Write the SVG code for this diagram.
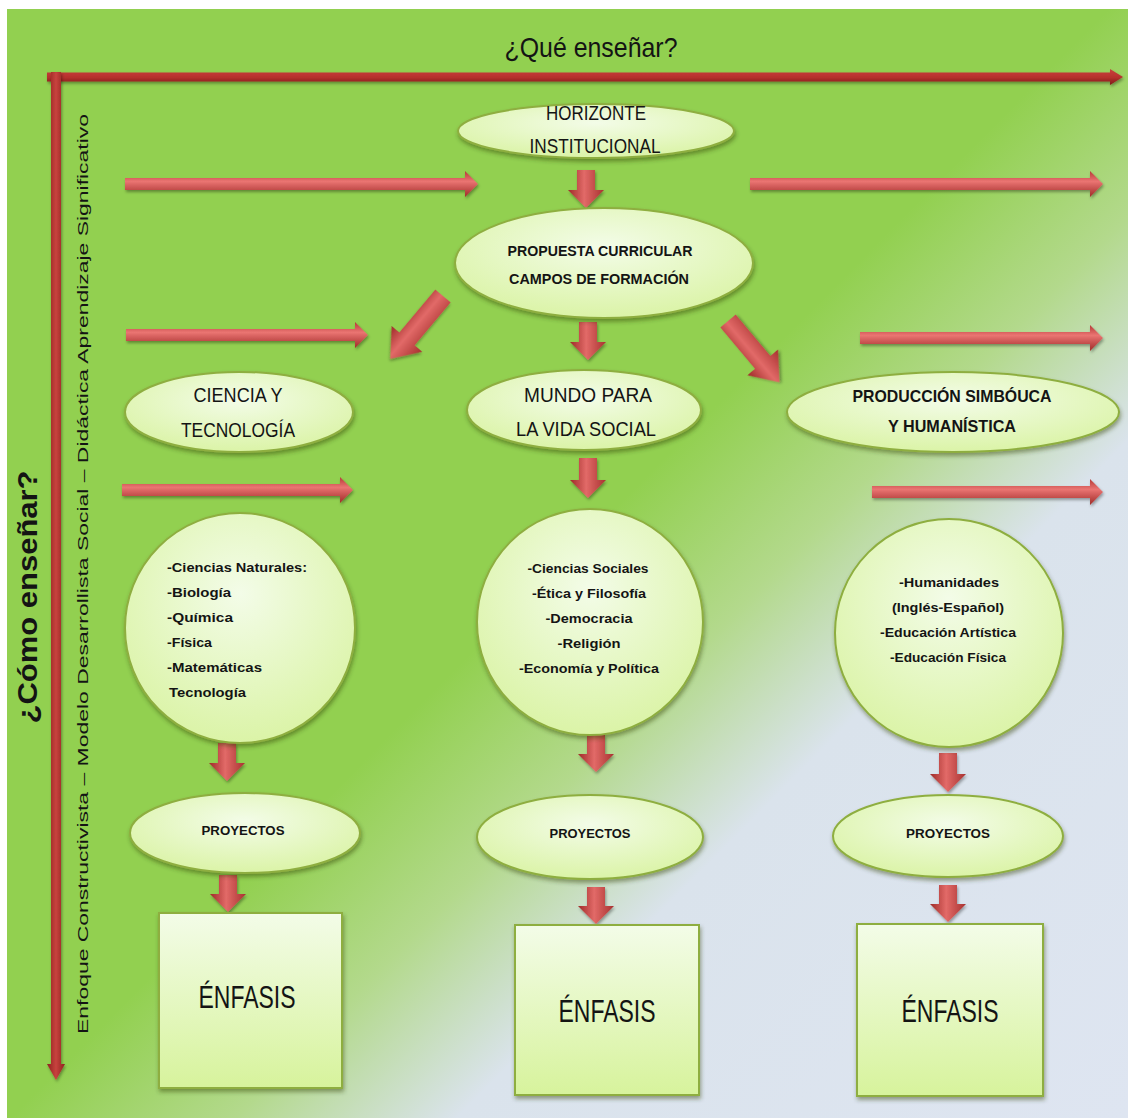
<svg xmlns="http://www.w3.org/2000/svg" width="1128" height="1118" viewBox="0 0 1128 1118">
<defs>
  <linearGradient id="bg" gradientUnits="userSpaceOnUse" x1="0" y1="0" x2="1128" y2="1118">
    <stop offset="0" stop-color="#92D050"/>
    <stop offset="0.5" stop-color="#92D050"/>
    <stop offset="0.6" stop-color="#B3D98C"/>
    <stop offset="0.7" stop-color="#DAE3EC"/>
    <stop offset="1" stop-color="#DEE5F1"/>
  </linearGradient>
  <linearGradient id="nodeFill" x1="0" y1="0" x2="0" y2="1">
    <stop offset="0" stop-color="#F3FCE8"/>
    <stop offset="1" stop-color="#D7F39C"/>
  </linearGradient>
  <radialGradient id="ellFill" cx="0.5" cy="0.35" r="0.7">
    <stop offset="0" stop-color="#F3FCE8"/>
    <stop offset="1" stop-color="#D9F3A2"/>
  </radialGradient>
  <linearGradient id="arrV" x1="0" y1="0" x2="1" y2="0">
    <stop offset="0" stop-color="#9E2B28"/>
    <stop offset="0.45" stop-color="#E26A68"/>
    <stop offset="1" stop-color="#A83230"/>
  </linearGradient>
  <linearGradient id="arrH" x1="0" y1="0" x2="0" y2="1">
    <stop offset="0" stop-color="#B53A36"/>
    <stop offset="0.4" stop-color="#EA7472"/>
    <stop offset="1" stop-color="#9F2B28"/>
  </linearGradient>
  <linearGradient id="axisH" x1="0" y1="0" x2="0" y2="1">
    <stop offset="0" stop-color="#C8413C"/>
    <stop offset="0.5" stop-color="#B8322E"/>
    <stop offset="1" stop-color="#7E1B19"/>
  </linearGradient>
  <linearGradient id="axisV" x1="0" y1="0" x2="1" y2="0">
    <stop offset="0" stop-color="#8E2220"/>
    <stop offset="0.5" stop-color="#C8433E"/>
    <stop offset="1" stop-color="#8E2220"/>
  </linearGradient>
  <filter id="sh" x="-10%" y="-10%" width="130%" height="140%">
    <feDropShadow dx="1" dy="3" stdDeviation="2" flood-color="#2a3a10" flood-opacity="0.45"/>
  </filter>
  <filter id="ash" x="-20%" y="-20%" width="150%" height="160%">
    <feDropShadow dx="1" dy="2" stdDeviation="1.5" flood-color="#000" flood-opacity="0.35"/>
  </filter>
</defs>
<style>
  .node { fill: url(#ellFill); stroke: #8EAE3F; stroke-width: 2; filter: url(#sh); }
  .box { fill: url(#nodeFill); stroke: #8EAE3F; stroke-width: 2; filter: url(#sh); }
  .av { fill: url(#arrV); filter: url(#ash); }
  .ah { fill: url(#arrH); filter: url(#ash); }
  text { font-family: "Liberation Sans Narrow", "Liberation Sans", Arial, sans-serif; fill: #141414; text-anchor: middle; }
  .t20 { font-size: 20px; }
  .t21 { font-size: 21px; }
  .t14b { font-size: 14px; font-weight: bold; }
  .t17b { font-size: 17px; font-weight: bold; }
  .t13b { font-size: 13px; font-weight: bold; }
  .t12b { font-size: 12px; font-weight: bold; }
  .t30 { font-size: 31px; }
  .left { text-anchor: start; }
</style>

<rect x="7" y="9" width="1121" height="1109" fill="url(#bg)"/>

<g id="titles">
  <text x="591" y="57" font-size="28" textLength="173" lengthAdjust="spacingAndGlyphs">¿Qué enseñar?</text>
  <text transform="translate(37,597) rotate(-90)" font-size="27" font-weight="bold" textLength="253" lengthAdjust="spacingAndGlyphs">¿Cómo enseñar?</text>
  <text transform="translate(88,574) rotate(-90)" font-size="15" textLength="920" lengthAdjust="spacingAndGlyphs">Enfoque Constructivista  –  Modelo Desarrollista Social – Didáctica Aprendizaje Significativo</text>
</g>

<g id="connectors">
  <!-- axes -->
  <path d="M47 72.5 H1110 V69 L1123 77 L1110 85 V81.5 H47 Z" fill="url(#axisH)" filter="url(#ash)"/>
  <path d="M51 72 H61 V1064 H65 L56 1080 L47 1064 H51 Z" fill="url(#axisV)" filter="url(#ash)"/>
  <!-- horizontal arrows -->
  <path class="ah" d="M125 178 H465 V171 L478 184 L465 197 V190 H125 Z"/>
  <path class="ah" d="M750 178 H1090 V171 L1103 184 L1090 197 V190 H750 Z"/>
  <path class="ah" d="M126 329 H355 V322 L368 335 L355 348 V341 H126 Z"/>
  <path class="ah" d="M860 332 H1090 V325 L1103 338 L1090 351 V344 H860 Z"/>
  <path class="ah" d="M122 484 H340 V477 L353 490 L340 503 V496 H122 Z"/>
  <path class="ah" d="M872 486 H1090 V479 L1103 492 L1090 505 V498 H872 Z"/>
  <!-- vertical arrows -->
  <path class="av" d="M577 170 H595 V190 H604 L586 208 L568 190 H577 Z"/>
  <path class="av" d="M579 322 H597 V342 H606 L588 360 L570 342 H579 Z"/>
  <path class="av" d="M579 458 H597 V480 H606 L588 498 L570 480 H579 Z"/>
  <path class="av" d="M218 743 H236 V763 H245 L227 781 L209 763 H218 Z"/>
  <path class="av" d="M587 735 H605 V754 H614 L596 772 L578 754 H587 Z"/>
  <path class="av" d="M939 753 H957 V774 H966 L948 792 L930 774 H939 Z"/>
  <path class="av" d="M219 875 H237 V894 H246 L228 912 L210 894 H219 Z"/>
  <path class="av" d="M587 887 H605 V906 H614 L596 924 L578 906 H587 Z"/>
  <path class="av" d="M939 885 H957 V904 H966 L948 922 L930 904 H939 Z"/>
  <!-- diagonal arrows -->
  <path class="av" transform="translate(443,296) rotate(40)" d="M-10 0 H10 V56 H20 L0 82 L-20 56 H-10 Z"/>
  <path class="av" transform="translate(728,321) rotate(-40)" d="M-10 0 H10 V54 H20 L0 80 L-20 54 H-10 Z"/>
</g>

<g id="horizonte">
  <ellipse class="node" cx="596" cy="131" rx="138" ry="27"/>
  <text class="t20" x="596" y="120" textLength="100" lengthAdjust="spacingAndGlyphs">HORIZONTE</text>
  <text class="t20" x="595" y="153" textLength="131" lengthAdjust="spacingAndGlyphs">INSTITUCIONAL</text>
</g>

<g id="propuesta">
  <ellipse class="node" cx="604" cy="263" rx="149" ry="55"/>
  <text class="t14b" x="600" y="256" textLength="185" lengthAdjust="spacingAndGlyphs">PROPUESTA  CURRICULAR</text>
  <text class="t14b" x="599" y="284" textLength="180" lengthAdjust="spacingAndGlyphs">CAMPOS DE FORMACIÓN</text>
</g>

<g id="ciencia">
  <ellipse class="node" cx="239" cy="412" rx="114" ry="40"/>
  <text class="t21" x="238" y="402" textLength="89" lengthAdjust="spacingAndGlyphs">CIENCIA Y</text>
  <text class="t21" x="238" y="437" textLength="114" lengthAdjust="spacingAndGlyphs">TECNOLOGÍA</text>
</g>

<g id="mundo">
  <ellipse class="node" cx="584" cy="410" rx="117" ry="40"/>
  <text class="t21" x="588" y="402" textLength="128" lengthAdjust="spacingAndGlyphs">MUNDO PARA</text>
  <text class="t21" x="586" y="436" textLength="140" lengthAdjust="spacingAndGlyphs">LA VIDA SOCIAL</text>
</g>

<g id="produccion">
  <ellipse class="node" cx="953" cy="412" rx="166" ry="40"/>
  <text class="t17b" x="952" y="402" textLength="199" lengthAdjust="spacingAndGlyphs">PRODUCCIÓN  SIMBÓUCA</text>
  <text class="t17b" x="952" y="432" textLength="128" lengthAdjust="spacingAndGlyphs">Y HUMANÍSTICA</text>
</g>

<g id="circulo-ciencia">
  <circle class="node" cx="240" cy="628" r="115"/>
  <text class="t13b left" x="167" y="572" textLength="140" lengthAdjust="spacingAndGlyphs">-Ciencias Naturales:</text>
  <text class="t13b left" x="167" y="597" textLength="64" lengthAdjust="spacingAndGlyphs">-Biología</text>
  <text class="t13b left" x="167" y="622" textLength="66" lengthAdjust="spacingAndGlyphs">-Química</text>
  <text class="t13b left" x="167" y="647" textLength="45" lengthAdjust="spacingAndGlyphs">-Física</text>
  <text class="t13b left" x="167" y="672" textLength="95" lengthAdjust="spacingAndGlyphs">-Matemáticas</text>
  <text class="t13b left" x="169" y="697" textLength="77" lengthAdjust="spacingAndGlyphs">Tecnología</text>
</g>

<g id="circulo-mundo">
  <circle class="node" cx="590" cy="622" r="113"/>
  <text class="t13b" x="588" y="573" textLength="121" lengthAdjust="spacingAndGlyphs">-Ciencias Sociales</text>
  <text class="t13b" x="589" y="598" textLength="114" lengthAdjust="spacingAndGlyphs">-Ética y Filosofía</text>
  <text class="t13b" x="589" y="623" textLength="87" lengthAdjust="spacingAndGlyphs">-Democracia</text>
  <text class="t13b" x="589" y="648" textLength="63" lengthAdjust="spacingAndGlyphs">-Religión</text>
  <text class="t13b" x="589" y="673" textLength="140" lengthAdjust="spacingAndGlyphs">-Economía y Política</text>
</g>

<g id="circulo-produccion">
  <circle class="node" cx="949" cy="633" r="114"/>
  <text class="t13b" x="949" y="587" textLength="100" lengthAdjust="spacingAndGlyphs">-Humanidades</text>
  <text class="t13b" x="948" y="612" textLength="112" lengthAdjust="spacingAndGlyphs">(Inglés-Español)</text>
  <text class="t13b" x="948" y="637" textLength="136" lengthAdjust="spacingAndGlyphs">-Educación Artística</text>
  <text class="t13b" x="948" y="662" textLength="116" lengthAdjust="spacingAndGlyphs">-Educación Física</text>
</g>

<g id="proyectos-1">
  <ellipse class="node" cx="245" cy="833" rx="115" ry="40"/>
  <text class="t12b" x="243" y="835" textLength="83" lengthAdjust="spacingAndGlyphs">PROYECTOS</text>
</g>
<g id="proyectos-2">
  <ellipse class="node" cx="590" cy="837" rx="113" ry="42"/>
  <text class="t12b" x="590" y="838" textLength="81" lengthAdjust="spacingAndGlyphs">PROYECTOS</text>
</g>
<g id="proyectos-3">
  <ellipse class="node" cx="948" cy="836" rx="115" ry="41"/>
  <text class="t12b" x="948" y="838" textLength="84" lengthAdjust="spacingAndGlyphs">PROYECTOS</text>
</g>

<g id="enfasis-1">
  <rect class="box" x="159" y="913" width="183" height="175"/>
  <text class="t30" x="247" y="1008" textLength="97" lengthAdjust="spacingAndGlyphs">ÉNFASIS</text>
</g>
<g id="enfasis-2">
  <rect class="box" x="515" y="925" width="184" height="170"/>
  <text class="t30" x="607" y="1022" textLength="97" lengthAdjust="spacingAndGlyphs">ÉNFASIS</text>
</g>
<g id="enfasis-3">
  <rect class="box" x="857" y="924" width="186" height="172"/>
  <text class="t30" x="950" y="1022" textLength="97" lengthAdjust="spacingAndGlyphs">ÉNFASIS</text>
</g>
</svg>
